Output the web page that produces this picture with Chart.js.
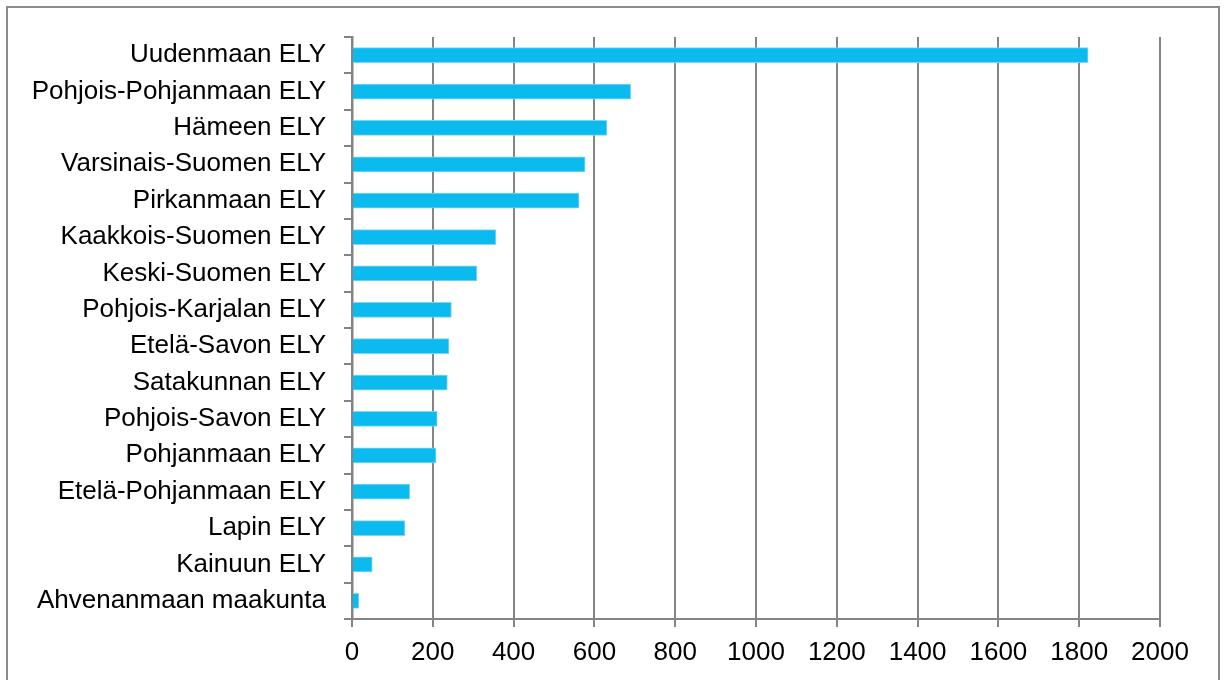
<!DOCTYPE html>
<html>
<head>
<meta charset="utf-8">
<script src="https://cdn.jsdelivr.net/npm/chart.js@4/dist/chart.umd.min.js"></script>
<style>
html,body{margin:0;padding:0;background:#fff;overflow:hidden;}
#wrap{position:relative;width:1227px;height:680px;}
#frame{position:absolute;left:6px;top:6px;width:1214px;height:720px;border:2px solid #8c8c8c;box-sizing:border-box;pointer-events:none;}
canvas{position:absolute;left:0;top:0;}
</style>
</head>
<body>
<div id="wrap">
<canvas id="c" width="1227" height="680"></canvas>
<div id="frame"></div>
</div>
<script>
const categories = [
  "Uudenmaan ELY",
  "Pohjois-Pohjanmaan ELY",
  "Hämeen ELY",
  "Varsinais-Suomen ELY",
  "Pirkanmaan ELY",
  "Kaakkois-Suomen ELY",
  "Keski-Suomen ELY",
  "Pohjois-Karjalan ELY",
  "Etelä-Savon ELY",
  "Satakunnan ELY",
  "Pohjois-Savon ELY",
  "Pohjanmaan ELY",
  "Etelä-Pohjanmaan ELY",
  "Lapin ELY",
  "Kainuun ELY",
  "Ahvenanmaan maakunta"
];
const values = [1822, 690, 631, 577, 562, 356, 309, 246, 240, 236, 211, 208, 143, 131, 50, 17];
const xTickMin = 0;
const xTickMax = 2000;
const xTickStep = 200;

const FONT = "'Liberation Sans', Arial, Helvetica, sans-serif";
const GRID = '#848484';

new Chart(document.getElementById('c'), {
  type: 'bar',
  data: {
    labels: categories,
    datasets: [{
      data: values,
      backgroundColor: '#0bbbef',
      borderColor: '#7fd6f4',
      borderWidth: {top: 1, bottom: 1, right: 1, left: 0},
      borderSkipped: 'start',
      barThickness: 15
    }]
  },
  options: {
    indexAxis: 'y',
    responsive: false,
    animation: false,
    devicePixelRatio: 1,
    layout: { padding: { top: 37, right: 67, left: 0, bottom: 0 } },
    plugins: { legend: { display: false }, tooltip: { enabled: false } },
    scales: {
      x: {
        min: xTickMin,
        max: xTickMax,
        ticks: {
          stepSize: xTickStep,
          color: '#000',
          font: { family: FONT, size: 26 },
          padding: 10,
          callback: (v) => String(v)
        },
        grid: { color: GRID, lineWidth: 2, tickLength: 8, drawTicks: true },
        border: { display: true, color: GRID, width: 2 },
        afterFit(scale) { scale.height = 61; }
      },
      y: {
        ticks: {
          color: '#000',
          font: { family: FONT, size: 26 },
          padding: 18
        },
        grid: { display: true, drawOnChartArea: false, drawTicks: true, tickLength: 8, color: GRID, lineWidth: 2, offset: true },
        border: { display: true, color: GRID, width: 2.5 },
        afterFit(scale) { scale.width = 352; }
      }
    }
  }
});
</script>
</body>
</html>
